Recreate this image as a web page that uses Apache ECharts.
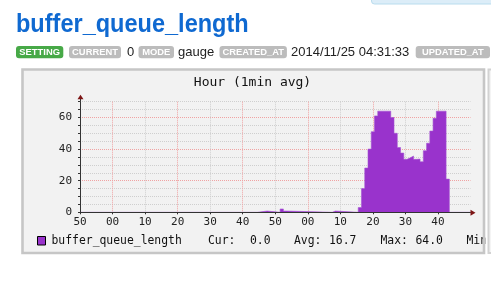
<!DOCTYPE html>
<html><head><meta charset="utf-8">
<script src="https://cdn.jsdelivr.net/npm/echarts@6/dist/echarts.min.js"></script>
<style>html,body{margin:0;padding:0;background:#fff;overflow:hidden}#c{width:491px;height:285px}</style>
</head><body><div id="c"></div>
<script>
// minute positions (0 = the "50" tick) where the 1-min average changes, and value from there on
const times  = [0, 54.5, 57.5, 61.5, 62.5, 63.5, 77.5, 78.5,
                85.5, 86.5, 87.5, 88.5, 89.5, 90.5, 91.5,
                95.5, 96.5, 97.5, 98.5, 99.5, 100.5, 101.5, 102.5, 103.5, 104.5, 105.5, 106.5, 107.5, 108.5, 109.5,
                112.5, 113.5, 120];
const values = [0, 0.8, 0, 2.1, 0.8, 0, 0.8, 0,
                3, 15, 28, 40, 51, 61, 64,
                60, 50, 41, 37.5, 33.5, 34.5, 35.6, 33.5, 33.7, 32, 39, 43.7, 51.4, 59.5, 64,
                21, 0, 0];
const xTickLabels = ["50","00","10","20","30","40","50","00","10","20","30","40"];
const yTickLabels = [0, 20, 40, 60];
const seriesName = "buffer_queue_length";
const legendStats = ["Cur:", "0.0", "Avg:", "16.7", "Max:", "64.0", "Min:", "0.0"];
const badges = [
  {label:"SETTING", kind:"ok"}, {label:"CURRENT"}, {value:"0"}, {label:"MODE"}, {value:"gauge"},
  {label:"CREATED_AT"}, {value:"2014/11/25 04:31:33"}, {label:"UPDATED_AT"}
];

const MONO = "'DejaVu Sans Mono', monospace";
const SANS = "'Liberation Sans', Arial, sans-serif";
const PURPLE = '#9933cc';

const chart = echarts.init(document.getElementById('c'), null, {renderer:'canvas'});

const badgeX = [16, 69, 127, 138.5, 178, 219.5, 291, 415.7];
const badgeW = [47.3, 52, 0, 35.5, 0, 67.4, 0, 74.3];
const g = [];
g.push({type:'rect', id:'topbox', shape:{x:371.5, y:-6, width:140, height:10, r:3}, style:{fill:'#dcedf8', stroke:'#b9dcee', lineWidth:1}, z:1});
g.push({type:'text', id:'title', x:16, y:24.5, scaleX:0.905, style:{text:seriesName, fontFamily:SANS, fontWeight:'bold', fontSize:26, fill:'#0f69d1', align:'left', verticalAlign:'middle'}, z:1});
badges.forEach((b, i) => {
  if (b.label) {
    g.push({type:'rect', id:'bg'+i, shape:{x:badgeX[i], y:46, width:badgeW[i], height:12.3, r:3}, style:{fill: b.kind==='ok' ? '#47a947' : '#bcbcbc'}, z:1});
    g.push({type:'text', id:'bt'+i, x:badgeX[i]+badgeW[i]/2, y:52.3, style:{text:b.label, fontFamily:SANS, fontWeight:'bold', fontSize:9.4, fill:'#ffffff', align:'center', verticalAlign:'middle'}, z:2});
  } else {
    g.push({type:'text', id:'bv'+i, x:badgeX[i], y:52.3, style:{text:b.value, fontFamily:SANS, fontSize:13, fill:'#222', align:'left', verticalAlign:'middle'}, z:2});
  }
});
g.push({type:'rect', id:'panelfill', shape:{x:22.5, y:69.5, width:462, height:184}, style:{fill:'#f2f2f2'}, z:-10});
g.push({type:'text', id:'ctitle', x:252.5, y:82.7, style:{text:'Hour (1min avg)', fontFamily:MONO, fontSize:13, fill:'#111', align:'center', verticalAlign:'middle'}, z:5});
g.push({type:'rect', id:'legsq', shape:{x:37.5, y:236.5, width:8, height:8.5}, style:{fill:PURPLE, stroke:'#000', lineWidth:1}, z:5});
g.push({type:'text', id:'legname', x:51.5, y:241, style:{text:seriesName, fontFamily:MONO, fontSize:11.4, fill:'#111', align:'left', verticalAlign:'middle'}, z:5});
const statX = [208, 250, 294, 329, 380.5, 415.5, 466.5, 504];
legendStats.forEach((s, i) => {
  g.push({type:'text', id:'ls'+i, x:statX[i], y:241, style:{text:s, fontFamily:MONO, fontSize:11.4, fill:'#111', align:'left', verticalAlign:'middle'}, z:5});
});
g.push({type:'rect', id:'panelborder', shape:{x:22.5, y:69.5, width:461.5, height:183.5}, style:{fill:null, stroke:'#c6c6c6', lineWidth:2.6}, z:100});
g.push({type:'rect', id:'gap', shape:{x:485.3, y:60, width:2.6, height:210}, style:{fill:'#ffffff'}, z:99});
g.push({type:'rect', id:'nextpanel', shape:{x:488.5, y:69.5, width:20, height:183.5}, style:{fill:'#f4f4f4', stroke:'#d2d2d2', lineWidth:2}, z:100});

const xFmt = v => { const i = Math.round(v / 10); return xTickLabels[i] !== undefined ? xTickLabels[i] : ''; };
const yFmt = v => yTickLabels.indexOf(v) >= 0 ? String(v) : '';

const option = {
  animation: false,
  backgroundColor: '#ffffff',
  grid: {left: 80, right: 20.5, top: 101.7, bottom: 72.7, containLabel: false},
  xAxis: [
    { // grid lines only (under the area)
      type: 'value', min: 0, max: 120, interval: 10, z: 0,
      axisLine: {show: false}, axisTick: {show: false}, axisLabel: {show: false},
      splitLine: {show: true, showMaxLine: false, lineStyle: {type: 'dotted', width: 1, color: ['#cfcfcf', '#f0a3a3']}}
    },
    { // axis line, ticks and labels (over the area)
      type: 'value', min: 0, max: 120, interval: 10, z: 10, position: 'bottom',
      axisLine: {show: true, onZero: false, lineStyle: {color: '#333', width: 1}},
      axisTick: {show: true, length: 2, lineStyle: {color: '#333'}},
      axisLabel: {show: true, margin: 4, fontFamily: MONO, fontSize: 11, color: '#222', showMaxLabel: false, formatter: xFmt},
      splitLine: {show: false}
    }
  ],
  yAxis: [
    {
      type: 'value', min: 0, max: 70, interval: 5, z: 0,
      axisLine: {show: false}, axisTick: {show: false}, axisLabel: {show: false},
      splitLine: {show: true, lineStyle: {type: 'dotted', width: 1, color: ['#f0a3a3', '#cfcfcf', '#cfcfcf', '#cfcfcf']}}
    },
    {
      type: 'value', min: 0, max: 70, interval: 5, z: 10, position: 'left',
      axisLine: {show: true, onZero: false, lineStyle: {color: '#333', width: 1}},
      axisTick: {show: true, length: 2, lineStyle: {color: '#333'}},
      axisLabel: {show: true, margin: 8, fontFamily: MONO, fontSize: 11, color: '#222', formatter: yFmt},
      splitLine: {show: false}
    }
  ],
  series: [{
    name: seriesName, type: 'line', step: 'end', symbol: 'none', silent: true, z: 3,
    xAxisIndex: 0, yAxisIndex: 0,
    data: times.map((t, i) => [t, values[i]]),
    lineStyle: {width: 0.6, color: '#a552d4'},
    areaStyle: {color: PURPLE, opacity: 1}
  }],
  graphic: g
};
chart.setOption(option);

const pEnd = chart.convertToPixel({xAxisIndex: 0, yAxisIndex: 0}, [120, 0]);
const pTop = chart.convertToPixel({xAxisIndex: 0, yAxisIndex: 0}, [0, 70]);
chart.setOption({graphic: [
  {type:'line', id:'yext', shape:{x1:pTop[0]+0.5, y1:pTop[1], x2:pTop[0]+0.5, y2:pTop[1]-3}, style:{stroke:'#333', lineWidth:1}, z:20},
  {type:'polygon', id:'yarrow', shape:{points:[[pTop[0]+0.5, pTop[1]-7], [pTop[0]-2.5, pTop[1]-2.5], [pTop[0]+3.5, pTop[1]-2.5]]}, style:{fill:'#7d1515'}, z:21},
  {type:'polygon', id:'xarrow', shape:{points:[[pEnd[0]+5, pEnd[1]+0.5], [pEnd[0], pEnd[1]-2.5], [pEnd[0], pEnd[1]+3.5]]}, style:{fill:'#7d1515'}, z:21}
]});
</script>
</body></html>
